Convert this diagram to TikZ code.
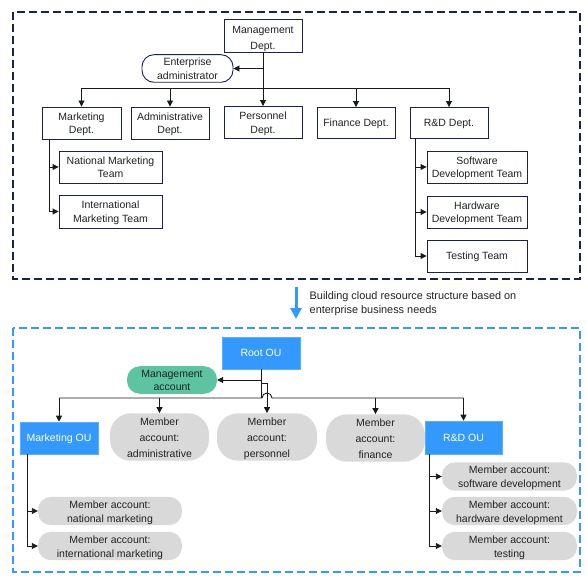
\documentclass[tikz,border=0pt]{standalone}
\usepackage{fontspec}
\setmainfont{Liberation Sans}
\usetikzlibrary{arrows.meta}
\definecolor{navy}{HTML}{1B2151}
\definecolor{oublue}{HTML}{3399FF}
\definecolor{mgreen}{HTML}{5CC4A0}
\definecolor{mgray}{HTML}{D9D9D9}
\definecolor{txt}{HTML}{222222}
\newcommand{\boxtxt}[2][1.3pt]{\raisebox{-#1}[\height][\depth]{\begin{tabular}{@{}c@{}}#2\end{tabular}}}
\begin{document}
\begin{tikzpicture}[x=1pt,y=-1pt,
  every node/.style={font=\fontsize{10.5}{13.8}\selectfont, text=txt, inner sep=0pt},
  dept/.style={draw=navy, line width=0.9pt, fill=white},
  pill/.style={draw=navy, line width=0.9pt, fill=white, rounded corners=12pt},
  ou/.style={fill=oublue, draw=oublue!80, line width=0.6pt, text=white},
  mgacc/.style={fill=mgreen, rounded corners=13pt},
  macc/.style={fill=mgray, rounded corners=13pt, font=\fontsize{10.5}{14.2}\selectfont},
  macc3/.style={fill=mgray, rounded corners=21pt, font=\fontsize{10.5}{15.8}\selectfont},
  conn/.style={draw=black!90, line width=0.9pt},
  arr/.style={conn, -{Triangle[length=6pt,width=6pt]}},
  frameA/.style={draw=navy, line width=1.1pt, dash pattern=on 8pt off 4pt},
  frameB/.style={draw=oublue, line width=1.1pt, dash pattern=on 8pt off 4pt},
]
\useasboundingbox (0,0) rectangle (587,583);

% frames
\draw[frameA] (13,12) rectangle (580,279);
\draw[frameB] (13,328) rectangle (580,572);

% ---------- top: enterprise organisation ----------
\node[dept, minimum width=78pt, minimum height=33pt, font=\fontsize{10.5}{15.5}\selectfont] (mgmt) at (263,35.5) {\boxtxt[2.8pt]{Management\\Dept.}};
\node[pill, minimum width=91pt, minimum height=25pt] (ent) at (187.5,68.5) {\boxtxt{Enterprise\\administrator}};
\node[dept, minimum width=79pt, minimum height=32pt] (mkt) at (81.5,123) {\boxtxt{Marketing\\Dept.}};
\node[dept, minimum width=78pt, minimum height=32pt] (adm) at (170,123) {\boxtxt{Administrative\\Dept.}};
\node[dept, minimum width=78pt, minimum height=32pt] (per) at (263,122.5) {\boxtxt{Personnel\\Dept.}};
\node[dept, minimum width=78pt, minimum height=31pt] (fin) at (356,123) {\boxtxt[0.8pt]{Finance Dept.}};
\node[dept, minimum width=78pt, minimum height=31pt] (rnd) at (449,123) {\boxtxt[0.8pt]{R\&D Dept.}};
\node[dept, minimum width=103pt, minimum height=32pt] (nat) at (110.5,167) {\boxtxt{National Marketing\\Team}};
\node[dept, minimum width=103pt, minimum height=33pt] (intl) at (110.5,211.5) {\boxtxt{International\\Marketing Team}};
\node[dept, minimum width=100pt, minimum height=32pt] (sw) at (477,167) {\boxtxt{Software\\Development Team}};
\node[dept, minimum width=100pt, minimum height=32pt] (hw) at (477,212) {\boxtxt{Hardware\\Development Team}};
\node[dept, minimum width=100pt, minimum height=32pt] (test) at (477,256) {\boxtxt[0.8pt]{Testing Team}};

\coordinate (tbus) at (263,88);
\draw[arr] (mgmt.south) -- (per.north);
\draw[arr] (mgmt.south |- ent.east) -- (ent.east);
\draw[conn] (tbus -| mkt.north) -- (tbus -| rnd.north);
\draw[arr] (tbus -| mkt.north) -- (mkt.north);
\draw[arr] (tbus -| adm.north) -- (adm.north);
\draw[arr] (tbus -| fin.north) -- (fin.north);
\draw[arr] (tbus -| rnd.north) -- (rnd.north);
\draw[arr] ([xshift=-32.5pt]mkt.south) |- (nat.west);
\draw[arr] ([xshift=-32.5pt]mkt.south) |- (intl.west);
\draw[arr] ([xshift=-33.5pt]rnd.south) |- (sw.west);
\draw[arr] ([xshift=-33.5pt]rnd.south) |- (hw.west);
\draw[arr] ([xshift=-33.5pt]rnd.south) |- (test.west);

% ---------- transition ----------
\coordinate (ba) at (296,287);
\coordinate (bb) at (296,319);
\draw[oublue, line width=3pt, -{Triangle[length=11pt,width=11pt]}] (ba) -- (bb);
\node[anchor=west, align=left, font=\fontsize{10.9}{14}\selectfont] (cap) at (309.5,304) {Building cloud resource structure based on\\enterprise business needs};

% ---------- bottom: cloud resource structure ----------
\node[ou, minimum width=78pt, minimum height=32pt] (root) at (261,353) {\boxtxt[0.8pt]{Root OU}};
\node[mgacc, minimum width=90pt, minimum height=26pt] (mga) at (172,380) {\boxtxt{Management\\account}};
\node[macc3, minimum width=99pt, minimum height=46pt] (madm) at (159.5,437) {\boxtxt{Member\\account:\\administrative}};
\node[macc3, minimum width=100pt, minimum height=46pt] (mper) at (267,437) {\boxtxt{Member\\account:\\personnel}};
\node[macc3, minimum width=99pt, minimum height=46pt] (mfin) at (375.5,438) {\boxtxt{Member\\account:\\finance}};
\node[ou, minimum width=78pt, minimum height=32pt] (mktou) at (59,438) {\boxtxt[0.8pt]{Marketing OU}};
\node[ou, minimum width=77pt, minimum height=33pt] (rndou) at (463.5,437.5) {\boxtxt[0.8pt]{R\&D OU}};
\node[macc, minimum width=144pt, minimum height=26pt] (mnat) at (110,511) {\boxtxt{Member account:\\national marketing}};
\node[macc, minimum width=144pt, minimum height=26pt] (mintl) at (110,546) {\boxtxt{Member account:\\international marketing}};
\node[macc, minimum width=135pt, minimum height=27pt] (msw) at (509.5,476.5) {\boxtxt{Member account:\\software development}};
\node[macc, minimum width=135pt, minimum height=26pt] (mhw) at (509.5,511) {\boxtxt{Member account:\\hardware development}};
\node[macc, minimum width=135pt, minimum height=26pt] (mtest) at (509.5,546) {\boxtxt{Member account:\\testing}};

\coordinate (bbus) at (261,398);
\coordinate (br) at (261,383);
\draw[conn] (root.south) -- (bbus);
\draw[arr] (root.south |- mga.east) -- (mga.east);
\draw[arr] (br) -| (mper.north);
\draw[conn] (bbus -| mktou.north) -- (bbus) -- ++(1pt,0pt) arc[start angle=180, end angle=0, radius=5pt] -- (bbus -| rndou.north);
\draw[arr] (bbus -| mktou.north) -- (mktou.north);
\draw[arr] (bbus -| madm.north) -- (madm.north);
\draw[arr] (bbus -| mfin.north) -- (mfin.north);
\draw[arr] (bbus -| rndou.north) -- (rndou.north);
\draw[arr] ([xshift=-32pt]mktou.south) |- (mnat.west);
\draw[arr] ([xshift=-32pt]mktou.south) |- (mintl.west);
\draw[arr] ([xshift=-34.5pt]rndou.south) |- (msw.west);
\draw[arr] ([xshift=-34.5pt]rndou.south) |- (mhw.west);
\draw[arr] ([xshift=-34.5pt]rndou.south) |- (mtest.west);
\end{tikzpicture}
\end{document}
